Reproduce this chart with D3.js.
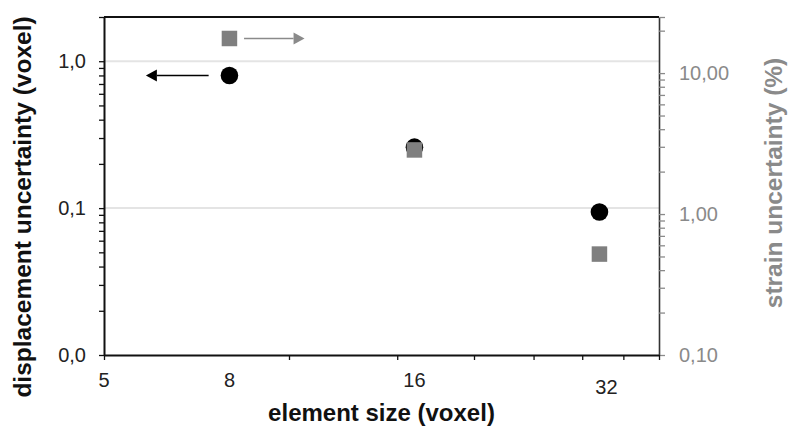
<!DOCTYPE html>
<html>
<head>
<meta charset="utf-8">
<script src="https://cdn.jsdelivr.net/npm/d3@7"></script>
<style>
  html, body { margin: 0; padding: 0; background: #fff; }
  svg { display: block; font-family: Arial, "Liberation Sans", sans-serif; }
</style>
</head>
<body>
<svg id="chart" width="792" height="434"></svg>
<script>
// element sizes (voxel) and the two measured series
const elementSizes = [8, 16, 32];
const displacementUnc = [0.80, 0.26, 0.094];   // voxel, left axis
const strainUnc = [17.6, 2.85, 0.52];          // %, right axis

// axis ticks
const xTickMarks = [5, 10, 15, 20, 25, 30, 35, 40];
const xTickLabels = [5, 8, 16, 32];
const leftMajor = [0.01, 0.1, 1];
const leftMinor = [0.02, 0.03, 0.04, 0.05, 0.06, 0.07, 0.08, 0.09,
                   0.2, 0.3, 0.4, 0.5, 0.6, 0.7, 0.8, 0.9, 2];
const rightMajor = [0.1, 1, 10];
const rightMinor = [0.2, 0.3, 0.4, 0.5, 0.6, 0.7, 0.8, 0.9,
                    2, 3, 4, 5, 6, 7, 8, 9, 20, 25];

// arrows telling which axis belongs to which series (x from -> to, in voxel)
const arrowLeft = { from: 7.4, to: 5.85 };
const arrowRight = { from: 8.45, to: 10.6 };

const svg = d3.select("#chart");
const L = 104, R = 659, T = 17, B = 355;
const grey = "#8a8a8a";

const x = d3.scaleLog().domain([5, 40]).range([L, R]);
const yL = d3.scaleLog().domain([0.01, 2]).range([B, T]);
const yR = d3.scaleLog().domain([0.1, 25]).range([B, T]);

const comma = f => v => d3.format(f)(v).replace(".", ",");

// grid lines on left majors
svg.append("g").selectAll("line")
  .data(leftMajor.filter(d => d > 0.01))
  .join("line")
    .attr("x1", L).attr("x2", R)
    .attr("y1", d => yL(d)).attr("y2", d => yL(d))
    .attr("stroke", "#e4e4e4").attr("stroke-width", 2);

// top frame line
svg.append("line")
  .attr("x1", L).attr("x2", R).attr("y1", T).attr("y2", T)
  .attr("stroke", "#111").attr("stroke-width", 2);

// left axis
const leftAxis = svg.append("g")
  .attr("transform", `translate(${L},0)`)
  .call(d3.axisLeft(yL)
    .tickValues(leftMajor.concat(leftMinor))
    .tickFormat(d => leftMajor.includes(d) ? comma(".1f")(d) : "")
    .tickSize(5).tickSizeOuter(0).tickPadding(13));
leftAxis.select(".domain").attr("stroke", "#111").attr("stroke-width", 2);
leftAxis.selectAll(".tick line").attr("stroke", "#111").attr("stroke-width", 1.3);
leftAxis.selectAll(".tick text")
  .attr("font-size", 20).attr("fill", "#222");

// right axis
const rightAxis = svg.append("g")
  .attr("transform", `translate(${R},0)`)
  .call(d3.axisRight(yR)
    .tickValues(rightMajor.concat(rightMinor))
    .tickFormat(d => rightMajor.includes(d) ? comma(".2f")(d) : "")
    .tickSize(6).tickSizeOuter(0).tickPadding(14));
rightAxis.select(".domain").attr("stroke", "#333").attr("stroke-width", 1.6);
rightAxis.selectAll(".tick line").attr("stroke", grey).attr("stroke-width", 1.3);
rightAxis.selectAll(".tick text")
  .attr("font-size", 20).attr("fill", grey);

// bottom axis (tick marks only, labels drawn at element sizes)
const bottomAxis = svg.append("g")
  .attr("transform", `translate(0,${B})`)
  .call(d3.axisBottom(x)
    .tickValues(xTickMarks)
    .tickFormat("")
    .tickSize(5).tickSizeOuter(0));
bottomAxis.select(".domain").attr("stroke", "#111").attr("stroke-width", 2);
bottomAxis.selectAll(".tick line").attr("stroke", "#111").attr("stroke-width", 1.3);

const labelNudge = { 32: [7, 7] };
svg.append("g").selectAll("text")
  .data(xTickLabels)
  .join("text")
    .attr("x", d => x(d) + (labelNudge[d] ? labelNudge[d][0] : 0))
    .attr("y", d => 387 + (labelNudge[d] ? labelNudge[d][1] : 0))
    .attr("text-anchor", "middle")
    .attr("font-size", 20).attr("fill", "#222")
    .text(d => d);

// axis titles
svg.append("text")
  .attr("x", (L + R) / 2).attr("y", 421)
  .attr("text-anchor", "middle")
  .attr("font-size", 24).attr("font-weight", "bold").attr("fill", "#111")
  .text("element size (voxel)");

svg.append("text")
  .attr("transform", "translate(31,207) rotate(-90)")
  .attr("text-anchor", "middle")
  .attr("font-size", 24.5).attr("font-weight", "bold").attr("fill", "#111")
  .text("displacement uncertainty (voxel)");

svg.append("text")
  .attr("transform", "translate(782,183) rotate(-90)")
  .attr("text-anchor", "middle")
  .attr("font-size", 24.5).attr("font-weight", "bold").attr("fill", grey)
  .text("strain uncertainty (%)");

// points: circles first, squares on top
const pts = elementSizes.map((s, i) => ({ s, d: displacementUnc[i], e: strainUnc[i] }));

svg.append("g").selectAll("circle")
  .data(pts)
  .join("circle")
    .attr("cx", d => x(d.s)).attr("cy", d => yL(d.d))
    .attr("r", 8.8).attr("fill", "#000");

const sq = 15.5;
svg.append("g").selectAll("rect")
  .data(pts)
  .join("rect")
    .attr("x", d => x(d.s) - sq / 2).attr("y", d => yR(d.e) - sq / 2)
    .attr("width", sq).attr("height", sq)
    .attr("fill", "#7f7f7f");

// arrows
function arrow(x1, x2, yy, color) {
  const dir = Math.sign(x2 - x1);
  const head = 11, half = 6;
  svg.append("line")
    .attr("x1", x1).attr("x2", x2 - dir * head)
    .attr("y1", yy).attr("y2", yy)
    .attr("stroke", color).attr("stroke-width", 1.6);
  svg.append("path")
    .attr("d", `M${x2},${yy} L${x2 - dir * head},${yy - half} L${x2 - dir * head},${yy + half} Z`)
    .attr("fill", color);
}
arrow(x(arrowLeft.from), x(arrowLeft.to), yL(displacementUnc[0]), "#000");
arrow(x(arrowRight.from), x(arrowRight.to), yR(strainUnc[0]), grey);
</script>
</body>
</html>
